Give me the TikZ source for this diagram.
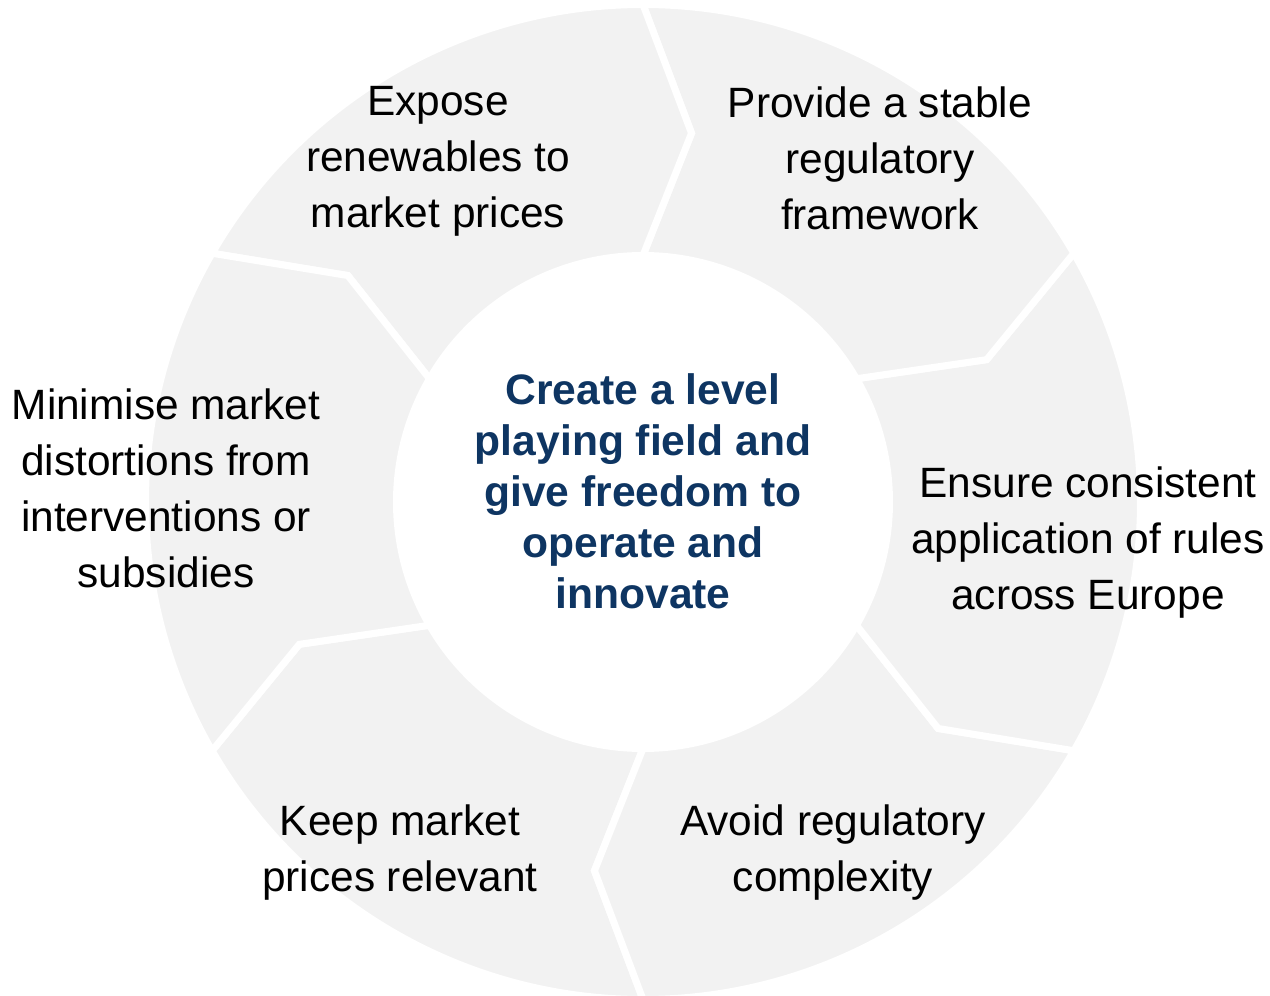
\documentclass[tikz,border=0pt]{standalone}
\usepackage{fontspec}
\setmainfont{Liberation Sans}
\usetikzlibrary{positioning}
\definecolor{ringgray}{HTML}{F2F2F2}
\definecolor{hubblue}{HTML}{0E3562}
\tikzset{segment/.style={fill=ringgray,draw=white,line width=3.5pt,line join=miter},
         point node/.style={align=center,font=\fontsize{21.2}{28}\selectfont},
         hub node/.style={align=center,text=hubblue,font=\fontsize{21.3}{25.5}\selectfont\bfseries}}
\begin{document}
\begin{tikzpicture}
    \useasboundingbox (-321.5pt,-247pt) rectangle (313.5pt,251pt);

    % six chevron segments of the ring
    \foreach \a in {-150,-90,-30,30,90,150} {
        \filldraw[segment] (\a:248.75pt) arc[start angle=\a, end angle=\a+60, radius=248.75pt]
            -- (\a+52.5:186pt) -- (\a+60:123.25pt)
            arc[start angle=\a+60, end angle=\a, radius=123.25pt]
            -- (\a-7.5:186pt) -- cycle;
    }

    \node[hub node] (hub) at (0pt,5.5pt) {Create a level\\playing field and\\give freedom to\\operate and\\innovate};

    \node[point node] (expose) at (-102.5pt,170.5pt) {Expose\\renewables to\\market prices};
    \node[point node] (stable) at (118.5pt,172pt) {Provide a stable\\regulatory\\framework};
    \node[point node] (rules) at (222.5pt,-20.5pt) {Ensure consistent\\application of rules\\across Europe};
    \node[point node] (complex) at (95pt,-175.5pt) {Avoid regulatory\\complexity};
    \node[point node] (prices) at (-121.5pt,-175.5pt) {Keep market\\prices relevant};
    \node[point node] (distort) at (-238.5pt,7pt) {Minimise market\\distortions from\\interventions or\\subsidies};
\end{tikzpicture}
\end{document}
